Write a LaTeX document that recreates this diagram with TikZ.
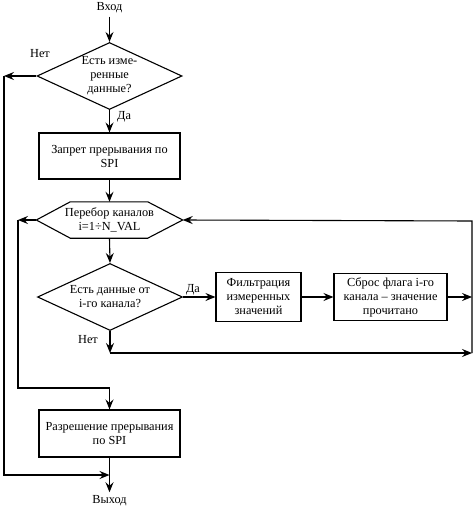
\documentclass[tikz,border=0pt]{standalone}
\usepackage{fontspec}
\setmainfont{Liberation Serif}
\usetikzlibrary{shapes.geometric,arrows.meta,calc}
\begin{document}
\begin{tikzpicture}[x=1pt,y=-1pt,
  every node/.style={font=\fontsize{12.3}{14}\selectfont},
  line/.style={line width=1.1pt},
  arr/.style={line width=1.1pt,-{Stealth[length=10pt,width=8pt,inset=3.5pt]}},
  procbox/.style={draw,line width=1.1pt,align=center,inner sep=0pt},
  decision/.style={draw,line width=1.1pt,diamond,align=center,inner sep=0pt,aspect=2.16,minimum width=145pt,minimum height=67pt},
  lbl/.style={inner sep=1pt}
]
\useasboundingbox (0,0) rectangle (474,508);

% nodes
\node (in) at (109.5,8) {Вход};
\node[decision] (d1) at (109.5,76) {Есть изме-\\ренные\\данные?};
\node[procbox,minimum width=141pt,minimum height=46pt] (b1) at (109.5,156) {Запрет прерывания по\\SPI};
\node[align=center,inner sep=0pt,minimum width=146pt,minimum height=36pt] (hex) at (109.5,220) {Перебор каналов\\i=1÷N\_VAL};
\draw[line] (hex.west) -- ([xshift=34pt]hex.north west) -- ([xshift=-35pt]hex.north east)
  -- (hex.east) -- ([xshift=-35pt]hex.south east) -- ([xshift=34pt]hex.south west) -- cycle;
\node[decision] (d2) at (110,297) {Есть данные от\\i-го канала?};
\node[procbox,minimum width=85pt,minimum height=49pt] (b2) at (258.5,297) {Фильтрация\\измеренных\\значений};
\node[procbox,minimum width=113pt,minimum height=47pt] (b3) at (390.5,297) {Сброс флага i-го\\канала – значение\\прочитано};
\node[procbox,minimum width=141pt,minimum height=47pt] (b4) at (109.5,433.5) {Разрешение прерывания\\по SPI};
\node (out) at (109.5,501) {Выход};

% labels
\node[lbl,anchor=base] at (40,58) {Нет};
\node[lbl,anchor=base west] at (116,120) {Да};
\node[lbl,anchor=base] at (193,292) {Да};
\node[lbl,anchor=base] at (88,343) {Нет};

% coordinates
\coordinate (oL) at (4,76);
\coordinate (oB) at (109.5,475);
\coordinate (iL) at (18,220);
\coordinate (iB) at (109.5,388);
\coordinate (rM) at (472,297);
\coordinate (rB) at (472,353);
\coordinate (rT) at (472,221);
\coordinate (nB) at (110,353);

% connectors
\draw[arr] (in) -- (d1.north);
\draw[arr] (d1.south) -- (b1.north);
\draw[arr] (d1.west) -- (oL);
\draw[arr,line width=1.5pt] (oL) |- (oB);
\draw[arr] (b1.south) -- (hex.north);
\draw[arr] (hex.west) -- (iL);
\draw[arr] (iL) |- (iB) -- (b4.north);
\draw[arr] (hex.south) -- (d2.north);
\draw[arr] (d2.east) -- (b2.west);
\draw[arr] (b2.east) -- (b3.west);
\draw[arr] (b3.east) -- (rM);
\draw[arr] (d2.south) -- (nB);
\draw[arr] (nB) -- (rB);
\draw[arr] (rB) -- (rT) -- (hex.east);
\draw[arr] (b4.south) -- (out.north);
\end{tikzpicture}
\end{document}
